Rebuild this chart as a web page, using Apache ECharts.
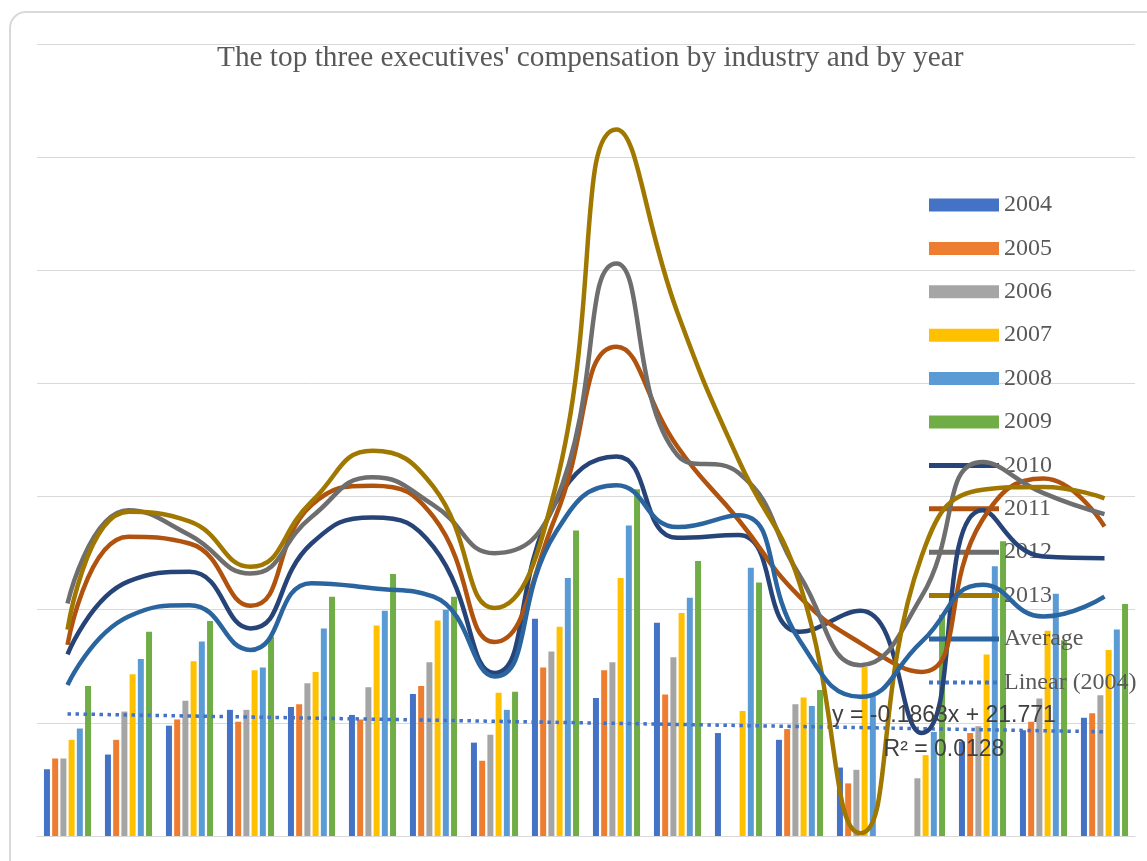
<!DOCTYPE html>
<html>
<head>
<meta charset="utf-8">
<script src="https://cdn.jsdelivr.net/npm/echarts@6/dist/echarts.min.js"></script>
<style>
  html, body { margin: 0; padding: 0; background: #ffffff; }
  #chart { width: 1147px; height: 861px; }
</style>
</head>
<body>
<div id="chart"></div>
<script>
// Industries (category labels are not shown on the axis)
const industries = ['A', 'B', 'C0', 'C1', 'C2', 'C3', 'C4', 'C5', 'C6', 'C7', 'C8', 'D', 'E', 'F', 'G', 'H', 'J', 'K'];

// Bar series: compensation by year
const y2004 = [11.8, 14.4, 19.5, 22.3, 22.8, 21.4, 25.1, 16.5, 38.4, 24.4, 37.7, 18.2, 17.0, 12.1, null, 16.7, 18.7, 20.9];
const y2005 = [13.7, 17.0, 20.6, 20.2, 23.3, 20.6, 26.5, 13.3, 29.8, 29.3, 25.0, null, 18.9, 9.3, null, 18.2, 20.2, 21.7];
const y2006 = [13.7, 22.0, 23.9, 22.3, 27.0, 26.3, 30.7, 17.9, 32.6, 30.7, 31.6, null, 23.3, 11.7, 10.2, 19.4, 24.3, 24.9];
const y2007 = [17.0, 28.6, 30.9, 29.3, 29.0, 37.2, 38.1, 25.3, 37.0, 45.6, 39.4, 22.1, 24.5, 29.9, 14.3, 32.1, 36.3, 32.9];
const y2008 = [19.0, 31.3, 34.4, 29.8, 36.7, 39.8, 40.0, 22.3, 45.6, 54.9, 42.1, 47.4, 23.0, 24.9, 18.4, 47.7, 42.8, 36.5];
const y2009 = [26.5, 36.1, 38.0, 35.2, 42.3, 46.3, 42.3, 25.5, 54.0, 61.3, 48.6, 44.8, 25.8, null, 39.1, 52.1, 34.6, 41.0];

// Smoothed line series
const y2010 = [32.1, 45.0, 46.7, 36.7, 51.7, 56.3, 51.1, 28.8, 58.9, 67.1, 52.7, 53.2, 36.1, 39.8, 18.2, 57.6, 49.4, 49.1];
const y2011 = [33.8, 52.9, 51.7, 40.7, 58.5, 61.9, 56.4, 34.3, 56.4, 86.5, 68.8, 55.9, 42.3, 34.1, 29.0, 55.9, 63.2, 54.7];
const y2012 = [41.1, 57.6, 53.2, 46.4, 56.4, 63.4, 58.5, 50.0, 59.0, 101.2, 67.3, 64.2, 46.1, 30.2, 42.3, 66.1, 60.6, 56.9];
const y2013 = [36.5, 57.3, 55.6, 47.6, 59.1, 68.1, 61.7, 40.3, 61.7, 124.9, 92.5, 66.5, 44.7, 0.5, 49.4, 61.2, 61.7, 59.7];
const average = [26.7, 38.8, 40.8, 32.9, 44.7, 43.8, 42.3, 28.2, 53.6, 62.0, 54.6, 56.7, 34.6, 24.6, 34.3, 44.4, 38.8, 42.3];

// Linear trend of 2004 as stated on the chart
const TREND_SLOPE = -0.1863;
const TREND_INTERCEPT = 21.771;
const TREND_R2 = 0.0128;

const Y_MIN = 0, Y_MAX = 140, Y_STEP = 20;

const trend2004 = industries.map((_, i) => +(TREND_INTERCEPT + TREND_SLOPE * (i + 1)).toFixed(3));

const barNames = ['2004', '2005', '2006', '2007', '2008', '2009'];
const barData = [y2004, y2005, y2006, y2007, y2008, y2009];
const barColors = ['#4472C4', '#ED7D31', '#A5A5A5', '#FFC000', '#5B9BD5', '#70AD47'];

const lineNames = ['2010', '2011', '2012', '2013', 'Average'];
const lineData = [y2010, y2011, y2012, y2013, average];
const lineColors = ['#264478', '#B0530F', '#6E6E6E', '#A07800', '#2A65A0'];

const serif = '"Liberation Serif", "DejaVu Serif", serif';
const sans = '"Liberation Sans", Arial, sans-serif';

// Legend glyphs for the line entries: a thick stroke and a dotted stroke,
// both laid out in a 70 x 13 box (the corner moves fix the box size).
const ICON_W = 70, ICON_H = 13;
const boxFrame = 'M0,0L0,0M' + ICON_W + ',' + ICON_H + 'L' + ICON_W + ',' + ICON_H;
const solidIcon = 'path://' + boxFrame + 'M0,4L' + ICON_W + ',4L' + ICON_W + ',9L0,9Z';
let dots = '';
for (let x = 0; x + 4 <= ICON_W; x += 8) {
  dots += 'M' + x + ',4.5L' + (x + 4) + ',4.5L' + (x + 4) + ',8.5L' + x + ',8.5Z';
}
const dottedIcon = 'path://' + boxFrame + dots;

const series = [];
barNames.forEach((n, i) => {
  series.push({
    name: n, type: 'bar', data: barData[i],
    barWidth: 6, barGap: '37%',
    itemStyle: { color: barColors[i] },
    z: 2
  });
});
lineNames.forEach((n, i) => {
  series.push({
    name: n, type: 'line', data: lineData[i],
    smooth: 0.5, symbol: 'none',
    lineStyle: { color: lineColors[i], width: 4.5 },
    itemStyle: { color: lineColors[i] },
    z: 4
  });
});
series.push({
  name: 'Linear (2004)', type: 'line', data: trend2004,
  symbol: 'none',
  lineStyle: { color: '#4472C4', width: 3.5, type: [3.5, 4.5] },
  itemStyle: { color: '#4472C4' },
  z: 3
});

const legendData = barNames.map(n => ({ name: n, icon: 'rect' }))
  .concat(lineNames.map(n => ({ name: n, icon: solidIcon, itemStyle: { borderWidth: 0 } })))
  .concat([{ name: 'Linear (2004)', icon: dottedIcon, itemStyle: { borderWidth: 0 } }]);

const chart = echarts.init(document.getElementById('chart'), null, { renderer: 'canvas' });
chart.setOption({
  animation: false,
  backgroundColor: '#ffffff',
  title: {
    text: "The top three executives' compensation by industry and by year",
    left: 212, top: 39,
    textStyle: { fontFamily: serif, fontSize: 29.3, fontWeight: 'normal', color: '#595959' }
  },
  legend: {
    data: legendData,
    orient: 'vertical',
    left: 929, top: 193, padding: 0,
    itemWidth: ICON_W, itemHeight: ICON_H, itemGap: 19.4,
    textStyle: { fontFamily: serif, fontSize: 24, color: '#595959', lineHeight: 24 }
  },
  grid: { left: 37, right: 12, top: 44, bottom: 25, containLabel: false },
  xAxis: {
    type: 'category', data: industries,
    axisLine: { show: true, lineStyle: { color: '#D9D9D9', width: 1 } },
    axisTick: { show: false },
    axisLabel: { show: false },
    splitLine: { show: false }
  },
  yAxis: {
    type: 'value', min: Y_MIN, max: Y_MAX, interval: Y_STEP,
    axisLine: { show: false }, axisTick: { show: false },
    axisLabel: { show: false },
    splitLine: { lineStyle: { color: '#D9D9D9', width: 1 } }
  },
  graphic: [
    {
      type: 'rect', silent: true, z: 0,
      shape: { x: 10, y: 12, width: 1170, height: 880, r: 16 },
      style: { fill: null, stroke: '#D9D9D9', lineWidth: 2 }
    },
    {
      type: 'text', z: 10, x: 944, y: 716,
      style: {
        text: 'y = ' + TREND_SLOPE + 'x + ' + TREND_INTERCEPT,
        font: '23px ' + sans, fill: '#404040', align: 'center', verticalAlign: 'middle'
      }
    },
    {
      type: 'text', z: 10, x: 944, y: 750,
      style: {
        text: 'R\u00B2 = ' + TREND_R2,
        font: '23px ' + sans, fill: '#404040', align: 'center', verticalAlign: 'middle'
      }
    }
  ],
  series: series
});
</script>
</body>
</html>
